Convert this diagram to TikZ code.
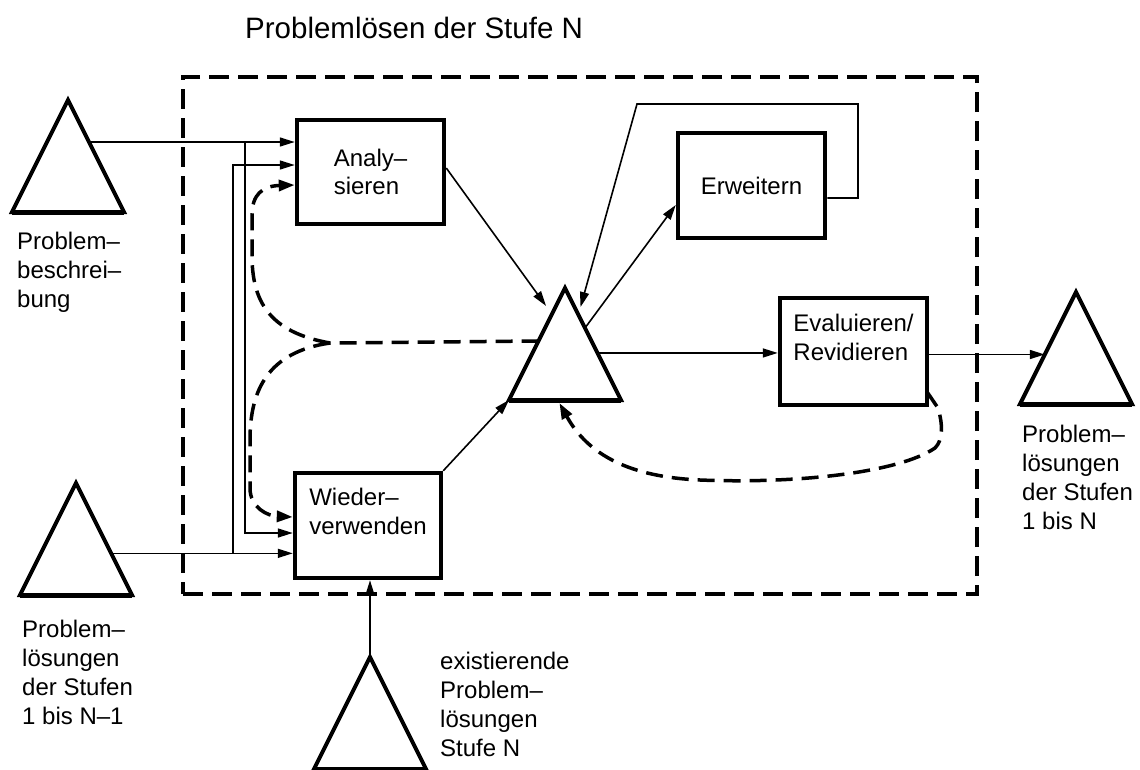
\documentclass[tikz,border=0pt]{standalone}
\usepackage{fontspec}
\setmainfont{Liberation Sans}
\usetikzlibrary{arrows.meta,calc}
\tikzset{
  arr/.style={line width=1.6pt,-{Triangle[length=15pt,width=9pt]}},
  dashline/.style={line width=3.5pt,dash pattern=on 17pt off 9pt},
  darr/.style={dashline,-{Triangle[length=16pt,width=11pt]}},
  box/.style={draw,line width=4.5pt,inner sep=0pt,align=left,font=\fontsize{24}{28.5}\selectfont},
  framebox/.style={draw,line width=4pt,dash pattern=on 20pt off 9pt,inner sep=0pt},
  lbl/.style={inner sep=0pt,anchor=north west,align=left,font=\fontsize{24}{29}\selectfont},
  triline/.style={line width=4pt,line join=miter},
  trianglepic/.pic={
    \coordinate (-a) at (0,0);
    \coordinate (-l) at (-56,112);
    \coordinate (-r) at (56,112);
    \draw[triline] (-a) -- (-l) -- (-r) -- cycle;
    \draw[line width=5pt] (-l) -- (-r);
  }
}
\begin{document}
\begin{tikzpicture}[x=1pt,y=-1pt]
\useasboundingbox (0,0) rectangle (1140,769);
% frame
\node[framebox,minimum width=794pt,minimum height=517pt] (F) at (580,335.5) {};
% title
\node[inner sep=0pt,anchor=base west,font=\fontsize{29.5}{34}\selectfont] (title) at (245,38) {Problemlösen der Stufe N};
% triangles
\pic (t1) at (68,100) {trianglepic};
\pic (t2) at (76,483) {trianglepic};
\pic (c) at (565,288) {trianglepic};
\pic (t4) at (1076,292) {trianglepic};
\pic (t3) at (370,657) {trianglepic};
% boxes
\node[box,minimum width=147pt,minimum height=104pt] (A) at (370.5,172) {Analy–\\sieren};
\node[box,minimum width=147pt,minimum height=105pt] (E) at (751.5,185.5) {Erweitern};
\node[box,minimum width=147pt,minimum height=107pt] (V) at (853.5,351.5) {Evaluieren/\\Revidieren\\\mbox{}};
\node[box,minimum width=146pt,minimum height=105pt] (W) at (368,525.5) {Wieder–\\verwenden\\\mbox{}};
% labels
\node[lbl] (L1) at (17,232) {Problem–\\beschrei–\\bung};
\node[lbl] (L2) at (22,620) {Problem–\\lösungen\\der Stufen\\1 bis N–1};
\node[lbl] (L3) at (440,652) {existierende\\Problem–\\lösungen\\Stufe N};
\node[lbl] (L4) at (1022,425) {Problem–\\lösungen\\der Stufen\\1 bis N};
% left inputs
\coordinate (p1) at ($(t1-a)!0.375!(t1-r)$);
\draw[arr] (p1) -- (p1 -| A.west);
\coordinate (j1) at (245,142);
\draw[arr] (j1) |- ($(W.west)+(0,7.5)$);
\coordinate (p3) at ($(t2-a)!0.628!(t2-r)$);
\draw[arr] (p3) -- (p3 -| W.west);
\coordinate (j2) at (233,553);
\draw[arr] (j2) |- ($(A.west)+(0,-7)$);
% dashed feedback to the left
\coordinate (pc1) at ($(c-a)!0.473!(c-l)$);
\coordinate (split) at (330,343);
\draw[dashline] (pc1) -- (split);
\draw[darr] (split) .. controls (268,332) and (252,300) .. (252,255) -- (252,215) .. controls (252,195) and (262,186) .. ($(A.west)+(0,13)$);
\draw[darr] (split) .. controls (268,352) and (250,390) .. (250,440) -- (250,488) .. controls (250,508) and (268,516) .. ($(W.west)+(0,-8.5)$);
% central connections
\draw[arr] ($(A.east)+(0,-4)$) -- ($(c-a)!0.16!(c-l)+(-10,0)$);
\coordinate (e1) at ($(E.east)+(0,12.5)$);
\coordinate (l1) at (858,104);
\coordinate (l2) at (637,104);
\draw[arr] (e1) -| (l1) -- (l2) -- ($(c-a)!0.17!(c-r)+(6,0)$);
\draw[arr] ($(c-a)!0.357!(c-r)$) -- ($(E.west)+(0,19.5)$);
\coordinate (p5) at ($(c-a)!0.58!(c-r)$);
\draw[arr] (p5) -- (p5 -| V.west);
\coordinate (p6) at ($(t4-a)!0.558!(t4-l)$);
\draw[arr] (p6 -| V.east) -- (p6);
\draw[arr] (W.north east) -- (c-l);
\draw[arr] (t3-a) -- (t3-a |- W.south);
\draw[darr] ($(V.south east)+(-2,-15)$) -- (938,408) .. controls (943,425) and (943,440) .. (935,448) .. controls (900,472) and (800,484) .. (700,480) .. controls (630,477) and (588,455) .. ($(c-l)!0.45!(c-r)+(0,3)$);
\end{tikzpicture}
\end{document}
